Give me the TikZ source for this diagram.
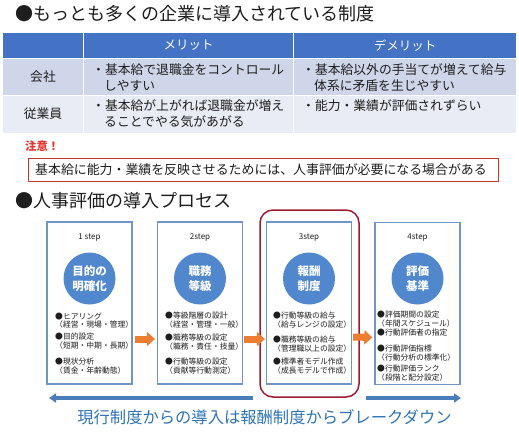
\documentclass[tikz,border=0pt]{standalone}
\usepackage{fontspec}
\setmainfont{Noto Sans CJK JP}
\usetikzlibrary{arrows.meta,calc}
\definecolor{hdrblue}{RGB}{68,114,196}
\definecolor{rowa}{RGB}{207,214,234}
\definecolor{rowb}{RGB}{233,235,245}
\definecolor{noticered}{RGB}{232,50,46}
\definecolor{boxred}{RGB}{192,57,43}
\definecolor{crimson}{RGB}{158,27,50}
\definecolor{stepblue}{RGB}{112,150,200}
\definecolor{circblue}{RGB}{80,135,205}
\definecolor{orangearr}{RGB}{237,125,49}
\definecolor{barblue}{RGB}{74,126,187}
\definecolor{txtblue}{RGB}{46,117,182}
\definecolor{ink}{RGB}{30,30,30}
\tikzset{
  title/.style={anchor=west,inner sep=0,text=ink,font=\fontsize{18}{22}\selectfont},
  hdr/.style={inner sep=0,text=white,font=\fontsize{12.5}{15}\selectfont},
  cell/.style={anchor=west,inner sep=0,text=ink,font=\fontsize{12.8}{16}\selectfont},
  stepbox/.style={draw=stepblue,line width=1.3pt,fill=white,minimum width=85pt,minimum height=162pt,inner sep=0},
  steplbl/.style={inner sep=0,text=ink,font=\fontsize{8}{10}\selectfont},
  circ/.style={circle,fill=circblue,minimum size=52pt,inner sep=0,text=white,align=center,font=\bfseries\fontsize{11.5}{15}\selectfont},
  bul/.style={anchor=west,inner sep=0,text=ink,font=\fontsize{7.8}{9}\selectfont},
  oarrow/.style={draw=orangearr,line width=7pt,-{Triangle[length=8pt,width=14pt]}},
  barrow/.style={draw=barblue,line width=3.5pt,-{Triangle[length=7pt,width=9pt]}},
}
\begin{document}
\begin{tikzpicture}[x=1pt,y=-1pt]
\useasboundingbox (0,0) rectangle (519,439);
\fill[white] (0,0) rectangle (519,439);
% title 1
\node[title] (t1) at (15,14) {●もっとも多くの企業に導入されている制度};
% table
\fill[hdrblue] (3,33) rectangle (516,58.5);
\fill[rowa] (3,58.5) rectangle (516,95.5);
\fill[rowb] (3,95.5) rectangle (516,133);
\draw[white,line width=1.5pt] (3,58.5) -- (516,58.5);
\draw[white,line width=1.5pt] (3,95.5) -- (516,95.5);
\draw[white,line width=1.5pt] (83.5,33) -- (83.5,133);
\draw[white,line width=1.5pt] (293.5,33) -- (293.5,133);
\node[hdr] (h1) at (188.5,45.5) {メリット};
\node[hdr] (h2) at (405,45.5) {デメリット};
\node[cell,anchor=center] (r1) at (43,77) {会社};
\node[cell,anchor=center] (r2) at (43,114) {従業員};
\node[cell] (c11a) at (92,70) {・基本給で退職金をコントロール};
\node[cell] (c11b) at (104,86) {しやすい};
\node[cell] (c12a) at (302,70) {・基本給以外の手当てが増えて給与};
\node[cell] (c12b) at (314,86) {体系に矛盾を生じやすい};
\node[cell] (c21a) at (92,106) {・基本給が上がれば退職金が増え};
\node[cell] (c21b) at (104,122) {ることでやる気があがる};
\node[cell] (c22a) at (302,106) {・能力・業績が評価されずらい};
% notice
\node[anchor=west,inner sep=0,text=noticered,font=\bfseries\fontsize{11.3}{14}\selectfont] (ntc) at (25,146) {注意！};
\node[draw=boxred,line width=1pt,minimum width=470pt,minimum height=23pt,inner sep=0] (nbox) at (263,169.5) {};
\node[anchor=west,inner sep=0,text=ink,font=\fontsize{12.9}{16}\selectfont] (ntxt) at (35,169.5) {基本給に能力・業績を反映させるためには、人事評価が必要になる場合がある};
% title 2
\node[title] (t2) at (15,201) {●人事評価の導入プロセス};
% red rounded frame
\node[draw=crimson,line width=1.5pt,rounded corners=13pt,minimum width=99pt,minimum height=187pt,inner sep=0] (r3) at (309.5,303.5) {};
% step boxes
\node[stepbox] (s1) at (89.5,303) {};
\node[stepbox] (s2) at (200,303) {};
\node[stepbox] (s3) at (309,303) {};
\node[stepbox] (s4) at (417.5,303.5) {};
\node[steplbl] (l1) at (89.5,238) {1 step};
\node[steplbl] (l2) at (200,238) {2step};
\node[steplbl] (l3) at (309,238) {3step};
\node[steplbl] (l4) at (417.5,238) {4step};
\node[circ] (k1) at (89.5,278.5) {目的の\\明確化};
\node[circ] (k2) at (200,278.5) {職務\\等級};
\node[circ] (k3) at (309,278.5) {報酬\\制度};
\node[circ] (k4) at (417.5,278.5) {評価\\基準};
% bullets
\foreach \t/\yy [count=\i] in {●ヒアリング/316,（経営・現場・管理）/324.5,●目的設定/337,（短期・中期・長期）/346,●現状分析/362,（賃金・年齢動態）/371}
  \node[bul] (a1-\i) at (55,\yy) {\t};
\foreach \t/\yy [count=\i] in {●等級階層の設計/316,（経営・管理・一般）/325,●職務等級の設定/338,（職務・責任・技量）/347,●行動等級の設定/362,（貢献等行動測定）/371}
  \node[bul] (a2-\i) at (165,\yy) {\t};
\foreach \t/\yy [count=\i] in {●行動等級の給与/316,（給与レンジの設定）/325,●職務等級の給与/340,（管理職以上の設定）/349,●標準者モデル作成/362,（成長モデルで作成）/371}
  \node[bul] (a3-\i) at (273,\yy) {\t};
\foreach \t/\yy [count=\i] in {●評価期間の設定/315,（年間スケジュール）/324,●行動評価者の指定/332.5,●行動評価指標/349,（行動分析の標準化）/358,●行動評価ランク/369,（段階と配分設定）/378}
  \node[bul] (a4-\i) at (377,\yy) {\t};
% orange arrows
\draw[oarrow] ($(s1.east)+(2,36)$) -- ($(s2.west)+(-2,36)$);
\draw[oarrow] ($(s2.east)+(1,36)$) -- ($(s3.west)+(-1,36)$);
\draw[oarrow] ($(s3.east)+(1,34)$) -- ($(s4.west)+(-2,34)$);
% bottom arrows
\coordinate (la1) at (253,398);
\coordinate (la2) at (49,398);
\coordinate (ra1) at (366,398);
\coordinate (ra2) at (461,398);
\draw[barrow] (la1) -- (la2);
\draw[barrow] (ra1) -- (ra2);
\node[inner sep=0,text=txtblue,font=\fontsize{16.3}{20}\selectfont] (bt) at (264.5,417) {現行制度からの導入は報酬制度からブレークダウン};
\end{tikzpicture}
\end{document}
